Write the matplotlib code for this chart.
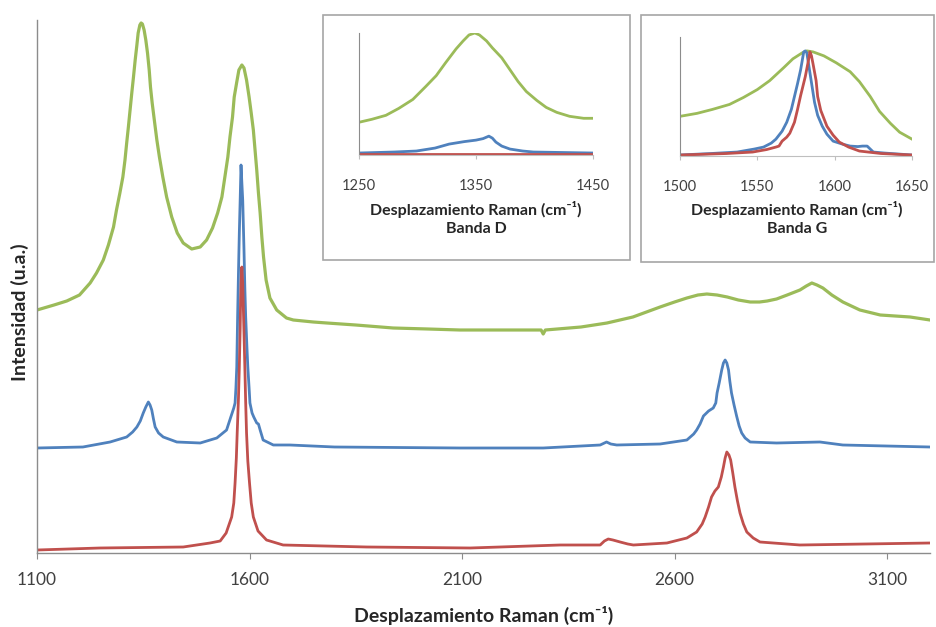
import matplotlib
matplotlib.use("Agg")
import matplotlib.pyplot as plt
from matplotlib.patches import Rectangle

plt.rcParams['font.family'] = ['Lato', 'DejaVu Sans']

# =============================
# DATA (arbitrary intensity units)
# =============================
green_x = [1100, 1140, 1170, 1200, 1225, 1240, 1256, 1268, 1280, 1287, 1295, 1302, 1307,
           1311, 1315, 1319, 1323, 1327, 1331, 1335, 1338, 1342, 1345, 1348, 1352, 1356,
           1360, 1364, 1367, 1371, 1376, 1382, 1388, 1396, 1405, 1417, 1430, 1444, 1464,
           1484, 1499, 1513, 1525, 1535, 1542, 1549, 1554, 1560, 1564, 1570, 1575, 1582,
           1587, 1593, 1599, 1604, 1609, 1613, 1617, 1621, 1625, 1629, 1633, 1639, 1648,
           1664, 1687, 1703, 1750, 1782, 1850, 1938, 2020, 2095, 2200, 2286, 2291, 2296,
           2380, 2441, 2502, 2566, 2600, 2629, 2655, 2676, 2700, 2724, 2750, 2778, 2800,
           2818, 2840, 2865, 2895, 2910, 2923, 2935, 2949, 2970, 2996, 3036, 3084, 3154, 3201]
green_y = [243, 248, 252, 258, 270, 280, 293, 308, 326, 343, 360, 376, 393,
           410, 426, 443, 460, 476, 493, 508, 520, 528, 530, 529, 523, 513,
           500, 483, 466, 450, 433, 413, 396, 376, 356, 336, 320, 310, 304,
           306, 313, 325, 340, 356, 376, 396, 416, 436, 456, 471, 483, 488,
           485, 473, 456, 440, 423, 403, 383, 360, 340, 316, 296, 273, 255,
           243, 235, 233, 231, 230, 228, 225, 224, 223, 223, 223, 219, 223,
           226, 230, 236, 246, 251, 255, 258, 259, 258, 256, 253, 251, 251,
           252, 254, 258, 263, 267, 270, 268, 265, 258, 251, 243, 238, 236, 233]

blue_x = [1100, 1208, 1272, 1311, 1325, 1335, 1343, 1350, 1356, 1362, 1366, 1370, 1374,
          1378, 1386, 1397, 1429, 1484, 1523, 1546, 1556, 1563, 1566, 1568, 1570, 1572,
          1574, 1576, 1578, 1580, 1582, 1584, 1587, 1589, 1591, 1594, 1596, 1599, 1601,
          1606, 1610, 1617, 1621, 1625, 1632, 1656, 1695, 1800, 2095, 2291, 2425, 2435,
          2440, 2450, 2464, 2566, 2629, 2645, 2652, 2660, 2668, 2680, 2691, 2697, 2700,
          2705, 2711, 2715, 2719, 2723, 2727, 2730, 2734, 2740, 2746, 2752, 2758, 2766,
          2778, 2840, 2942, 2996, 3201]
blue_y = [105, 106, 111, 116, 121, 126, 132, 140, 146, 151, 148, 143, 134,
          126, 120, 116, 111, 110, 115, 123, 136, 145, 150, 165, 186, 236,
          280, 320, 353, 388, 370, 353, 303, 265, 236, 205, 186, 165, 150,
          140, 136, 130, 129, 123, 113, 108, 108, 106, 105, 105, 108, 110,
          111, 109, 108, 109, 113, 119, 123, 129, 137, 142, 145, 150, 160,
          170, 183, 190, 193, 190, 183, 172, 160, 148, 137, 127, 120, 115,
          111, 110, 111, 108, 106]

red_x = [1100, 1248, 1444, 1507, 1531, 1545, 1558, 1563, 1566, 1569, 1571, 1574, 1576,
         1578, 1579, 1580, 1582, 1584, 1585, 1587, 1589, 1591, 1593, 1596, 1600, 1604,
         1609, 1620, 1640, 1679, 1876, 2119, 2331, 2425, 2435, 2444, 2455, 2472, 2490,
         2503, 2582, 2610, 2629, 2652, 2665, 2672, 2680, 2687, 2695, 2703, 2710, 2715,
         2719, 2723, 2728, 2732, 2737, 2742, 2748, 2754, 2762, 2770, 2785, 2801, 2895, 3201]
red_y = [3, 5, 6, 10, 12, 20, 36, 50, 70, 95, 120, 155, 186,
         225, 253, 270, 286, 270, 253, 220, 186, 150, 120, 92, 70, 50,
         36, 22, 13, 8, 6, 5, 8, 8, 12, 14, 13, 11, 9,
         8, 10, 13, 15, 21, 29, 36, 46, 56, 62, 66, 76, 86,
         95, 101, 98, 93, 80, 66, 52, 40, 29, 21, 15, 11, 8, 10]

# Inset "Banda D"
d_green_x = [1250, 1261, 1273, 1284, 1296, 1307, 1316, 1324, 1333, 1339, 1344, 1349, 1353,
             1359, 1364, 1372, 1379, 1386, 1393, 1402, 1410, 1419, 1430, 1442, 1449]
d_green_y = [32, 35, 39, 46, 55, 68, 79, 92, 106, 114, 120, 122, 120,
             114, 107, 97, 85, 73, 63, 54, 47, 42, 38, 36, 36]
d_blue_x = [1250, 1280, 1299, 1315, 1327, 1340, 1350, 1356, 1361, 1364, 1367, 1372, 1379,
            1390, 1399, 1450]
d_blue_y = [1, 2, 3, 6, 10, 12.5, 14, 15.5, 18, 16, 12, 8, 5,
            3, 2, 1]
d_red_x = [1250, 1350, 1450]
d_red_y = [0, 0, 0]

# Inset "Banda G"
g_green_x = [1500, 1511, 1521, 1532, 1541, 1550, 1558, 1567, 1573, 1579, 1582, 1586, 1593,
             1601, 1610, 1616, 1623, 1629, 1636, 1642, 1650]
g_green_y = [39, 42, 46, 51, 58, 66, 75, 88, 97, 103, 105, 104, 100,
             93, 84, 74, 59, 44, 32, 23, 16]
g_blue_x = [1500, 1520, 1537, 1548, 1554, 1559, 1562, 1566, 1569, 1572, 1574, 1576, 1578,
            1579, 1580, 1581, 1582, 1583, 1584, 1585.5, 1587, 1589, 1592, 1595, 1599, 1605,
            1610, 1615, 1618, 1621, 1623, 1625, 1632, 1650]
g_blue_y = [0, 1.5, 3, 6, 8, 12, 16, 24, 33, 46, 59, 72, 86,
            95, 104, 105, 103, 93, 83, 68, 53, 40, 29, 21, 14, 11,
            9, 8.5, 9, 9, 6, 3, 2, 0]
g_red_x = [1500, 1530, 1547, 1556, 1562, 1564, 1566, 1569, 1571, 1574, 1576, 1578, 1581,
           1583, 1584, 1585, 1586, 1588, 1589, 1591, 1595, 1599, 1603, 1609, 1616, 1630, 1650]
g_red_y = [0, 1.5, 3, 5.5, 8, 9, 14, 18, 22, 33, 46, 60, 79,
           95, 104, 100, 92, 75, 59, 45, 29, 20, 13, 8, 4, 1.5, 0]

main_ticks = [1100, 1600, 2100, 2600, 3100]
d_ticks = [1250, 1350, 1450]
g_ticks = [1500, 1550, 1600, 1650]

GREEN = '#9BBB59'
BLUE = '#4F81BD'
RED = '#C0504D'
AXIS = '#8c8c8c'
TXT = '#404040'

W, H = 936, 627


def frac(left, top, right, bottom):
    # pixel box -> figure fraction [l, b, w, h]
    return [left / W, 1 - bottom / H, (right - left) / W, (bottom - top) / H]


fig = plt.figure(figsize=(9.36, 6.27), dpi=100)

# =============================
# MAIN SPECTRA
# =============================
ax = fig.add_axes(frac(37, 20, 930, 553))
ax.plot(green_x, green_y, color=GREEN, lw=2.3, solid_joinstyle='round')
ax.plot(blue_x, blue_y, color=BLUE, lw=2.0, solid_joinstyle='round')
ax.plot(red_x, red_y, color=RED, lw=2.0, solid_joinstyle='round')
ax.set_xlim(1100, 3201)
ax.set_ylim(0, 533)
ax.set_xticks(main_ticks)
ax.set_yticks([])
for s in ['top', 'right']:
    ax.spines[s].set_visible(False)
for s in ['left', 'bottom']:
    ax.spines[s].set_color(AXIS)
    ax.spines[s].set_linewidth(1.0)
ax.tick_params(axis='x', direction='out', length=4, color=AXIS, pad=10,
               labelsize=12.5, labelcolor=TXT)

fig.text(484 / W, 1 - 615 / H, 'Desplazamiento Raman (cm⁻¹)', ha='center', va='center',
         fontsize=14, fontweight='bold', color='#262626')
fig.text(20 / W, 1 - 312 / H, 'Intensidad (u.a.)', ha='center', va='center', rotation=90,
         fontsize=14, fontweight='bold', color='#262626')

# =============================
# INSETS
# =============================
def inset(box, axbox, xs, ticks, band, cx):
    frame = Rectangle((box[0], box[1]), box[2], box[3], transform=fig.transFigure,
                      facecolor='white', edgecolor='#a6a6a6', lw=1.2, zorder=5)
    fig.patches.append(frame)
    a = fig.add_axes(axbox, zorder=10)
    a.patch.set_visible(False)
    for (x, y, c) in xs:
        a.plot(x, y, color=c, lw=2.0, solid_joinstyle='round')
    a.set_xlim(ticks[0], ticks[-1])
    a.set_xticks(ticks)
    a.set_yticks([])
    for s in ['top', 'right']:
        a.spines[s].set_visible(False)
    a.spines['left'].set_color(AXIS)
    a.spines['bottom'].set_color('#bfbfbf')
    a.tick_params(axis='x', direction='out', length=3, color='#bfbfbf', pad=14,
                  labelsize=10.5, labelcolor=TXT)
    fig.text(cx / W, 1 - 210 / H, 'Desplazamiento Raman (cm⁻¹)', ha='center', va='center',
             fontsize=11.5, fontweight='bold', color='#262626', zorder=11)
    fig.text(cx / W, 1 - 229 / H, band, ha='center', va='center',
             fontsize=11.5, fontweight='bold', color='#262626', zorder=11)
    return a


a1 = inset(frac(323, 15, 630, 260), frac(359, 33, 593, 155),
           [(d_green_x, d_green_y, GREEN), (d_blue_x, d_blue_y, BLUE), (d_red_x, d_red_y, RED)],
           d_ticks, 'Banda D', 476)
a1.set_ylim(-1, 122)

a2 = inset(frac(641, 15, 934, 262), frac(680, 37, 912, 156),
           [(g_green_x, g_green_y, GREEN), (g_blue_x, g_blue_y, BLUE), (g_red_x, g_red_y, RED)],
           g_ticks, 'Banda G', 797)
a2.set_ylim(-1, 119)

fig.savefig('out.png', dpi=100)
